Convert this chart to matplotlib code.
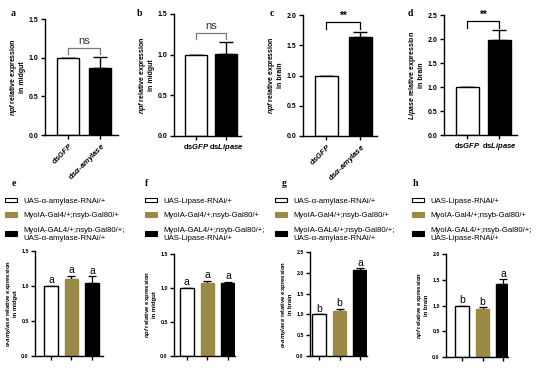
import numpy as np
import matplotlib
matplotlib.use('Agg')
import matplotlib.pyplot as plt
from matplotlib.patches import Patch

plt.rcParams['font.family'] = ['Liberation Sans', 'DejaVu Sans']
plt.rcParams['mathtext.fontset'] = 'custom'
plt.rcParams['mathtext.rm'] = 'Liberation Sans:bold'
plt.rcParams['mathtext.it'] = 'Liberation Sans:bold:italic'
plt.rcParams['mathtext.bf'] = 'Liberation Sans:bold'

# ---- data, top row (a-d) ----
a_ticks = ['ds$\\it{GFP}$', 'ds$\\it{α}$-$\\it{amylase}$']
a_vals = [1.0, 0.87]
a_err = [0.0, 0.14]
b_ticks = ['ds$\\it{GFP}$', 'ds$\\it{Lipase}$']
b_vals = [1.0, 1.01]
b_err = [0.0, 0.14]
c_ticks = ['ds$\\it{GFP}$', 'ds$\\it{α}$-$\\it{amylase}$']
c_vals = [1.0, 1.63]
c_err = [0.0, 0.09]
d_ticks = ['ds$\\it{GFP}$', 'ds$\\it{Lipase}$']
d_vals = [1.0, 1.98]
d_err = [0.0, 0.21]
top_sig = ['ns', 'ns', '**', '**']
top_sig_y = [1.13, 1.27, 1.88, 2.37]

# ---- data, bottom row (e-h) ----
e_vals = [1.0, 1.10, 1.05]
e_err = [0.0, 0.05, 0.09]
e_grp = ['a', 'a', 'a']
f_vals = [1.0, 1.07, 1.07]
f_err = [0.0, 0.04, 0.02]
f_grp = ['a', 'a', 'a']
g_vals = [1.0, 1.07, 2.06]
g_err = [0.0, 0.06, 0.05]
g_grp = ['b', 'b', 'a']
h_vals = [1.0, 0.94, 1.42]
h_err = [0.0, 0.03, 0.09]
h_grp = ['b', 'b', 'a']

amy_legend = ['UAS-α-amylase-RNAi/+', 'MyoIA-Gal4/+;nsyb-Gal80/+',
              'MyoIA-GAL4/+;nsyb-Gal80/+;\nUAS-α-amylase-RNAi/+']
lip_legend = ['UAS-Lipase-RNAi/+', 'MyoIA-Gal4/+;nsyb-Gal80/+',
              'MyoIA-GAL4/+;nsyb-Gal80/+;\nUAS-Lipase-RNAi/+']

npf_mid = '$\\it{npf}$ relative expression\nin midgut'
npf_brain = '$\\it{npf}$ relative expression\nin brain'
lip_brain = '$\\it{Lipase}$ relative expression\nin brain'
amy_mid = '$\\it{α}$-$\\it{amylase}$ relative expression\nin midgut'
amy_brain = '$\\it{α}$-$\\it{amylase}$ relative expression\nin brain'

OLIVE = '#9b8a45'
W, H = 550, 370

fig = plt.figure(figsize=(5.5, 3.7), dpi=100)


def make_ax(l, r, t, b):
    return fig.add_axes([l / W, 1 - b / H, (r - l) / W, (b - t) / H])


def style(ax, fs):
    for s in ['top', 'right']:
        ax.spines[s].set_visible(False)
    for s in ['left', 'bottom']:
        ax.spines[s].set_linewidth(1.0)
    ax.tick_params(length=3, width=1.0, labelsize=fs, pad=1.5)
    for lab in ax.get_yticklabels() + ax.get_xticklabels():
        lab.set_fontweight('bold')


# top row
top = [
    (a_vals, a_err, a_ticks, npf_mid, 1.5, (45, 118, 19, 135), (-0.72, 1.56), 0.69, True),
    (b_vals, b_err, b_ticks, npf_mid, 1.5, (174, 241, 14, 136), (-0.72, 1.48), 0.72, False),
    (c_vals, c_err, c_ticks, npf_brain, 2.0, (303, 377, 15, 136), (-0.69, 1.49), 0.66, True),
    (d_vals, d_err, d_ticks, lip_brain, 2.5, (444, 517, 15, 135), (-0.73, 1.55), 0.70, False),
]
for i, (vals, err, ticks, ylab, ymax, box, xl, bw, rot) in enumerate(top):
    ax = make_ax(*box)
    x = np.arange(len(vals))
    ax.bar(x, vals, width=bw, color=['white', 'black'], edgecolor='black', linewidth=1.0, zorder=2)
    ax.errorbar(x, vals, yerr=[np.zeros(len(err)), err], fmt='none', ecolor='black',
                elinewidth=1.0, capsize=5, capthick=1.0, zorder=1)
    ax.set_xlim(*xl)
    ax.set_ylim(0, ymax)
    ax.set_yticks(np.arange(0, ymax + 0.01, 0.5))
    ax.set_yticklabels(['%.1f' % v for v in np.arange(0, ymax + 0.01, 0.5)])
    ax.set_xticks(x)
    if rot:
        ax.set_xticklabels(ticks, rotation=45, ha='right', rotation_mode='anchor')
    else:
        ax.set_xticklabels(ticks)
    style(ax, 5)
    ax.tick_params(axis='x', labelsize=5.5)
    ax.set_ylabel(ylab, fontsize=5, fontweight='bold', labelpad=2, linespacing=1.1)
    sy = top_sig_y[i]
    leg = 0.08 * ymax / 1.5
    col = '#7a7a7a' if top_sig[i] == 'ns' else 'black'
    ax.plot([0, 0, 1, 1], [sy - leg, sy, sy, sy - leg], color=col, lw=0.9, clip_on=False)
    ax.text(0.5, sy + 0.01 * ymax, top_sig[i], ha='center', va='bottom',
            fontsize=8 if top_sig[i] == 'ns' else 7, color='#333333' if top_sig[i] == 'ns' else 'black',
            fontweight='normal' if top_sig[i] == 'ns' else 'bold')

# bottom row
bottom = [
    (e_vals, e_err, e_grp, amy_mid, 1.5, (35, 103, 251, 356), (-0.78, 2.54), amy_legend, 5),
    (f_vals, f_err, f_grp, npf_mid, 1.5, (174, 235, 254, 356), (-0.62, 2.33), lip_legend, 145),
    (g_vals, g_err, g_grp, amy_brain, 2.5, (310, 367, 252, 356), (-0.44, 2.34), amy_legend, 275),
    (h_vals, h_err, h_grp, npf_brain, 2.0, (446, 508, 254, 357), (-0.78, 2.24), lip_legend, 412),
]
colors3 = ['white', OLIVE, 'black']
for vals, err, grp, ylab, ymax, box, xl, legtxt, legx in bottom:
    ax = make_ax(*box)
    x = np.arange(len(vals))
    ax.bar(x, vals, width=0.66, color=colors3, edgecolor=['black', OLIVE, 'black'],
           linewidth=1.0, zorder=2)
    ax.errorbar(x, vals, yerr=[np.zeros(len(err)), err], fmt='none', ecolor='black',
                elinewidth=0.9, capsize=2.8, capthick=0.9, zorder=1)
    for xi, v, e, g in zip(x, vals, err, grp):
        ax.text(xi, v + e + 0.005 * ymax, g, ha='center', va='bottom', fontsize=7.5)
    ax.set_xlim(*xl)
    ax.set_ylim(0, ymax)
    ax.set_yticks(np.arange(0, ymax + 0.01, 0.5))
    ax.set_yticklabels(['%.1f' % v for v in np.arange(0, ymax + 0.01, 0.5)])
    ax.set_xticks(x)
    ax.set_xticklabels([])
    style(ax, 3.8)
    ax.set_ylabel(ylab, fontsize=4.3, fontweight='bold', labelpad=2, linespacing=1.1)
    handles = [Patch(facecolor=c, edgecolor='black' if c != OLIVE else OLIVE, linewidth=0.8)
               for c in colors3]
    fig.legend(handles, legtxt, loc='upper left', bbox_to_anchor=(legx / W, 1 - 197.5 / H),
               frameon=False, fontsize=5.6, handlelength=1.5, handleheight=0.6,
               handletextpad=0.8, labelspacing=0.95, borderpad=0, borderaxespad=0)

# panel letters
letters = ['a', 'b', 'c', 'd', 'e', 'f', 'g', 'h']
lx = [11, 137, 270, 408, 12, 145, 282, 413]
ly = [14, 14, 14, 14, 184, 184, 184, 184]
for t, px, py in zip(letters, lx, ly):
    fig.text(px / W, 1 - py / H, t, fontsize=7, fontweight='bold',
             family='Liberation Serif', ha='left', va='center')

fig.savefig('out.png', dpi=100)
